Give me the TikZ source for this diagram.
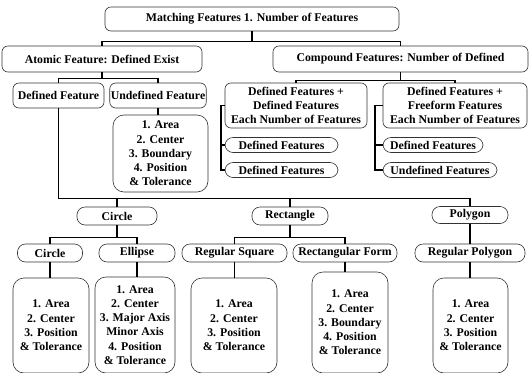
\documentclass[tikz,border=0pt]{standalone}
\usepackage{fontspec}
\setmainfont{Liberation Serif}
\usepackage{tikz}
\usetikzlibrary{positioning, calc}

\begin{document}
\begin{tikzpicture}[
    x=1pt, y=-1pt,
    txt/.style={font=\fontsize{11.8}{14.3}\selectfont\bfseries, align=center, inner sep=1pt},
    box/.style={txt, rectangle, rounded corners=6pt, draw=black!80, line width=0.6pt},
    pill/.style={txt, rectangle, rounded corners=8pt, draw=black!80, line width=0.6pt, minimum height=16pt},
    listbox/.style={txt, rectangle, rounded corners=11pt, draw=black!80, line width=0.6pt},
    conn/.style={line width=1.6pt, black}
]
\clip (0,0) rectangle (532,372);

% top level
\node[box, minimum width=294pt, minimum height=24pt] (title) at (252,19) {Matching Features 1. Number of Features};
\node[box, minimum width=200pt, minimum height=26pt] (atomic) at (102,59) {Atomic Feature: Defined Exist};
\node[box, minimum width=255pt, minimum height=26pt] (compound) at (400.5,59) {Compound Features: Number of Defined};

% atomic branch
\node[box, minimum width=91pt, minimum height=25pt] (deffeat) at (58.5,95.5) {Defined Feature};
\node[box, minimum width=92pt, minimum height=25pt] (undeffeat) at (158,95.5) {Undefined Feature};
\node[listbox, minimum width=95pt, minimum height=77pt] (undeflist) at (160.5,153.5) {1. Area\\2. Center\\3. Boundary\\4. Position\\\& Tolerance};

% compound branch
\node[box, minimum width=142pt, minimum height=45pt] (dd) at (296,105.5) {Defined Features +\\Defined Features\\Each Number of Features};
\node[box, minimum width=144pt, minimum height=45pt] (df) at (455,105.5) {Defined Features +\\Freeform Features\\Each Number of Features};
\node[pill, minimum width=113pt, minimum height=15pt] (ddone) at (281.5,145) {Defined Features};
\node[pill, minimum width=113pt, minimum height=15pt] (ddtwo) at (281.5,170) {Defined Features};
\node[pill, minimum width=100pt, minimum height=15pt] (dfone) at (433,145) {Defined Features};
\node[pill, minimum width=114pt, minimum height=15pt] (dftwo) at (440,170) {Undefined Features};

% shape types
\node[pill, minimum width=80pt, minimum height=18pt] (pcircle) at (117,216) {Circle};
\node[pill, minimum width=76pt, minimum height=18pt] (prect) at (290,216) {Rectangle};
\node[pill, minimum width=76pt, minimum height=17pt] (ppoly) at (470,215) {Polygon};

\node[pill, minimum width=65pt, minimum height=18pt] (ccircle) at (50,253) {Circle};
\node[pill, minimum width=76pt, minimum height=18pt] (cellipse) at (137,253) {Ellipse};
\node[pill, minimum width=105pt, minimum height=18pt] (csquare) at (234.5,253) {Regular Square};
\node[pill, minimum width=104pt, minimum height=18pt] (crectform) at (345,253) {Rectangular Form};
\node[pill, minimum width=110pt, minimum height=18pt] (cregpoly) at (470,253) {Regular Polygon};

% attribute lists
\node[listbox, minimum width=76pt, minimum height=95pt] (circlelist) at (51,325.5) {1. Area\\2. Center\\3. Position\\\& Tolerance};
\node[listbox, minimum width=80pt, minimum height=96pt] (ellipselist) at (135,325) {1. Area\\2. Center\\3. Major Axis\\Minor Axis\\4. Position\\\& Tolerance};
\node[listbox, minimum width=86pt, minimum height=95pt] (squarelist) at (234,325.5) {1. Area\\2. Center\\3. Position\\\& Tolerance};
\node[listbox, minimum width=76pt, minimum height=101pt] (rectformlist) at (350,322.5) {1. Area\\2. Center\\3. Boundary\\4. Position\\\& Tolerance};
\node[listbox, minimum width=75pt, minimum height=95pt] (polylist) at (470.5,325.5) {1. Area\\2. Center\\3. Position\\\& Tolerance};

% connectors
\draw[conn] (title.south) -- ++(0,10) -| (atomic.north);
\draw[conn] (title.south) -- ++(0,10) -| (compound.north);
\draw[conn] (atomic.south) -- ++(0,6) -| (deffeat.north);
\draw[conn] (atomic.south) -- ++(0,6) -| (undeffeat.north);
\draw[conn] (undeffeat.south) -- (undeffeat.south |- undeflist.north);
\draw[conn] (compound.south) -- ++(0,8) -| (dd.north);
\draw[conn] (compound.south) -- ++(0,8) -| (df.north);
\draw[conn] (dd.west) -- ++(-4,0) |- (ddone.west);
\draw[conn] (dd.west) ++(-4,0) |- (ddtwo.west);
\draw[conn] (df.west) -- ++(-8,0) |- (dfone.west);
\draw[conn] (df.west) ++(-8,0) |- (dftwo.west);

\draw[conn] (deffeat.south) -- ++(0,90) -| (ppoly.north);
\draw[conn] (pcircle.north) -- ++(0,-9);
\draw[conn] (prect.north) -- ++(0,-9);

\draw[conn] (pcircle.south) -- ++(0,12) -| (ccircle.north);
\draw[conn] (pcircle.south) -- ++(0,12) -| (cellipse.north);
\draw[conn] (prect.south) -- ++(0,12) -| (csquare.north);
\draw[conn] (prect.south) -- ++(0,12) -| (crectform.north);
\draw[conn] (ppoly.south) -- (cregpoly.north);

\draw[conn] (ccircle.south) -- (ccircle.south |- circlelist.north);
\draw[conn] (cellipse.south) -- (cellipse.south |- ellipselist.north);
\draw[conn] (csquare.south) -- (csquare.south |- squarelist.north);
\draw[conn] (crectform.south) -- (crectform.south |- rectformlist.north);
\draw[conn] (cregpoly.south) -- (cregpoly.south |- polylist.north);

\end{tikzpicture}
\end{document}
